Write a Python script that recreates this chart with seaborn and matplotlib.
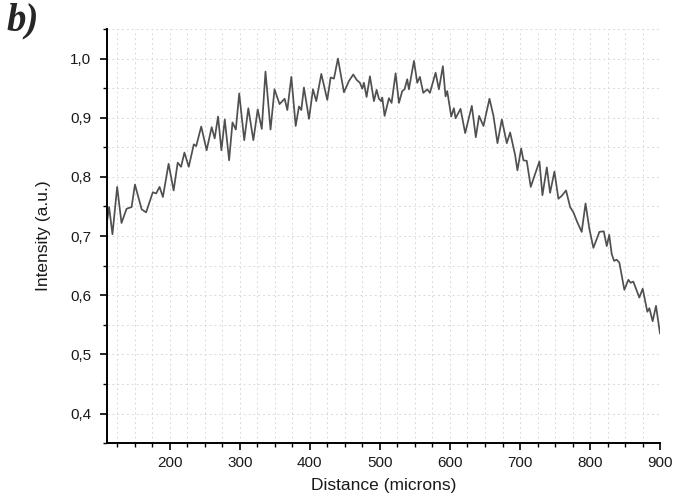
import numpy as np
import pandas as pd
import matplotlib
matplotlib.use("Agg")
import matplotlib.pyplot as plt
from matplotlib.ticker import MultipleLocator, FuncFormatter
import seaborn as sns

distance = [
    110, 113.5, 118.3, 125, 131.2, 138.4, 145.6, 150.4, 160, 166.3,
    175.9, 180.7, 185.5, 190.3, 198.4, 205.6, 211.4, 216.2, 221, 227.2,
    234.4, 237.8, 245, 252.7, 259.9, 264.2, 269, 273.8, 278.6, 284.8,
    289.6, 294.4, 299.2, 306.4, 312.2, 319.4, 325.6, 331.4, 336.7, 343.9,
    349.6, 356.8, 364, 367.9, 373.6, 379.8, 384.5, 387.8, 391.6, 398.8,
    404.5, 409.2, 416.4, 424.9, 429.7, 434.4, 440.1, 448.7, 455.8, 462,
    466.8, 471.5, 474.9, 477.2, 481, 485.8, 491.5, 495.3, 498.6, 502,
    503.4, 506.7, 512.9, 516.7, 522.4, 527.2, 531.9, 535.2, 539, 541.4,
    548.6, 553.3, 557.1, 561.9, 567.6, 571.4, 579.5, 584.2, 589.9, 593.7,
    596.1, 601.8, 605.6, 608, 615.1, 621.7, 631.2, 636.9, 641.6, 647.8,
    656.4, 662.1, 667.8, 674, 681.1, 685.9, 693, 696.3, 701.6, 704.9,
    709.6, 715.3, 720.1, 727.7, 732, 738.2, 742.9, 749.1, 754.8, 759.6,
    765.7, 771.5, 776.2, 781.9, 788, 793.5, 799, 804.7, 813.3, 819.5,
    823.8, 827.3, 830.8, 834.2, 838, 841.8, 848.9, 854.6, 857.9, 861.7,
    870.3, 875.1, 881.7, 884.6, 889.3, 894.1, 899.8,
]
intensity = [
    0.720, 0.749, 0.703, 0.783, 0.722, 0.746, 0.749, 0.787, 0.745, 0.740,
    0.774, 0.772, 0.783, 0.766, 0.822, 0.777, 0.824, 0.817, 0.841, 0.817,
    0.855, 0.852, 0.885, 0.845, 0.884, 0.865, 0.902, 0.845, 0.897, 0.828,
    0.892, 0.880, 0.941, 0.862, 0.916, 0.862, 0.914, 0.881, 0.978, 0.880,
    0.948, 0.923, 0.932, 0.913, 0.969, 0.886, 0.919, 0.913, 0.951, 0.898,
    0.948, 0.928, 0.974, 0.930, 0.968, 0.966, 1.000, 0.943, 0.962, 0.973,
    0.964, 0.959, 0.949, 0.959, 0.935, 0.970, 0.928, 0.947, 0.932, 0.928,
    0.934, 0.903, 0.933, 0.925, 0.975, 0.925, 0.945, 0.948, 0.965, 0.948,
    0.996, 0.959, 0.969, 0.942, 0.948, 0.942, 0.976, 0.948, 0.987, 0.936,
    0.945, 0.902, 0.916, 0.899, 0.915, 0.874, 0.920, 0.867, 0.903, 0.886,
    0.932, 0.903, 0.857, 0.897, 0.857, 0.875, 0.837, 0.811, 0.848, 0.828,
    0.827, 0.783, 0.800, 0.826, 0.769, 0.816, 0.773, 0.809, 0.763, 0.768,
    0.777, 0.749, 0.740, 0.723, 0.707, 0.755, 0.712, 0.680, 0.707, 0.708,
    0.683, 0.702, 0.670, 0.658, 0.660, 0.655, 0.609, 0.626, 0.621, 0.623,
    0.596, 0.611, 0.572, 0.578, 0.556, 0.582, 0.535,
]

x_major_ticks = [200, 300, 400, 500, 600, 700, 800, 900]
y_major_ticks = [0.4, 0.5, 0.6, 0.7, 0.8, 0.9, 1.0]

df = pd.DataFrame({"Distance": distance, "Intensity": intensity})

sns.set_style("white")
plt.rcParams["font.family"] = ["Liberation Sans", "DejaVu Sans"]

fig = plt.figure(figsize=(6.75, 4.99), dpi=100)
ax = fig.add_axes([0.158, 0.112, 0.820, 0.830])

sns.lineplot(data=df, x="Distance", y="Intensity", ax=ax,
             color="#505050", linewidth=1.25, sort=False)

ax.set_xlim(110, 900)
ax.set_ylim(0.35, 1.05)
ax.set_xticks(x_major_ticks)
ax.set_yticks(y_major_ticks)
ax.xaxis.set_minor_locator(MultipleLocator(25))
ax.yaxis.set_minor_locator(MultipleLocator(0.05))
ax.yaxis.set_major_formatter(FuncFormatter(lambda v, p: f"{v:.1f}".replace(".", ",")))

ax.grid(True, which="both", linestyle=(0, (2, 3)), color="#dadada", linewidth=0.7)
ax.set_axisbelow(True)

for s in ["top", "right"]:
    ax.spines[s].set_visible(False)
for s in ["left", "bottom"]:
    ax.spines[s].set_color("black")
    ax.spines[s].set_linewidth(1.4)

ax.tick_params(axis="both", which="major", direction="out", length=5, width=1.2,
               color="black", labelsize=11, labelcolor="#1a1a1a")
ax.tick_params(axis="y", which="major", pad=6)
ax.tick_params(axis="x", which="major", pad=4)
ax.tick_params(axis="both", which="minor", direction="out", length=3, width=1.0,
               color="black")
ax.tick_params(axis="both", which="both", bottom=True, left=True)

ax.set_xlabel("Distance (microns)", fontsize=12.5, labelpad=6, color="#1a1a1a")
ax.set_ylabel("Intensity (a.u.)", fontsize=12.5, labelpad=14, color="#1a1a1a")

fig.text(0.010, 0.995, "b)", fontsize=28, fontweight="bold", fontstyle="italic",
         family=["Liberation Serif", "DejaVu Serif"], va="top", ha="left")

fig.savefig("out.png", dpi=100)
